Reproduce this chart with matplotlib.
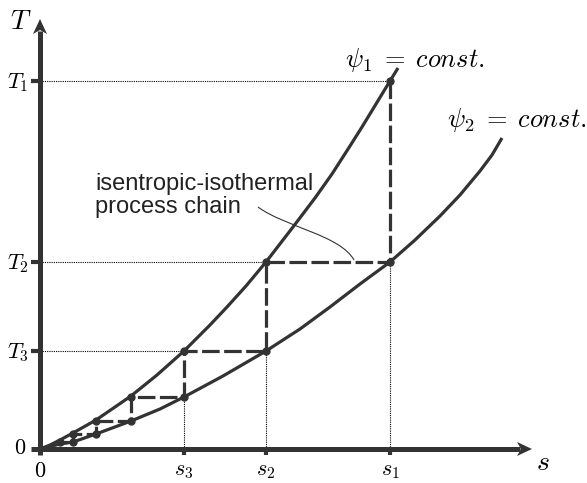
import matplotlib
matplotlib.use("Agg")
import matplotlib.pyplot as plt
from matplotlib.path import Path
from matplotlib.patches import PathPatch, Polygon

plt.rcParams['mathtext.fontset'] = 'cm'

# ---- data (arbitrary units) ----
psi1_s = [0, 10, 20, 33, 56, 75, 91, 117, 144, 170, 187, 206, 226, 253, 275, 292,
          310, 322, 336, 350, 358]
psi1_T = [0, 4, 9, 16, 29, 42, 53, 74, 98, 124, 142, 163, 187, 222, 251, 275,
          303, 322, 345, 368, 381]
psi2_s = [0, 20, 33, 56, 91, 120, 144, 183, 226, 260, 290, 320, 350, 375, 400,
          420, 440, 452, 462]
psi2_T = [0, 5, 7, 15, 28, 40, 52, 73, 98, 120, 142, 165, 187, 209, 233,
          254, 278, 294, 311]

chain_s = [350, 226, 144, 91, 56, 33, 20]
chain_T = [368, 187, 98, 52, 28, 15, 7]

s_ticks = [144, 226, 350]
s_labels = ['$s_3$', '$s_2$', '$s_1$']
T_ticks = [368, 187, 98]
T_labels = ['$T_1$', '$T_2$', '$T_3$']

s_max = 492
T_max = 430

dark = '#333333'

fig = plt.figure(figsize=(5.87, 4.83), dpi=100)
ax = fig.add_axes([0, 0, 1, 1])
ax.set_xlim(-40, 547)
ax.set_ylim(-34, 449)
ax.axis('off')

# axes with stealth arrows
ax.plot([-9, s_max - 12], [0, 0], color=dark, lw=3.6, solid_capstyle='butt', zorder=3)
ax.plot([0, 0], [-6, T_max - 12], color=dark, lw=3.6, solid_capstyle='butt', zorder=3)
L, W, N = 15, 7, 4
ax.add_patch(Polygon([(s_max, 0), (s_max - L, W), (s_max - L + N, 0), (s_max - L, -W)],
                     closed=True, color=dark, lw=0, zorder=3))
ax.add_patch(Polygon([(0, T_max), (W, T_max - L), (0, T_max - L + N), (-W, T_max - L)],
                     closed=True, color=dark, lw=0, zorder=3))

# ticks
for s in s_ticks:
    ax.plot([s, s], [0, -6], color=dark, lw=3.0, solid_capstyle='butt', zorder=3)
for T in T_ticks:
    ax.plot([0, -9], [T, T], color=dark, lw=3.0, solid_capstyle='butt', zorder=3)

# curves
ax.plot(psi1_s, psi1_T, color=dark, lw=2.3, zorder=2, solid_capstyle='butt')
ax.plot(psi2_s, psi2_T, color=dark, lw=2.3, zorder=2, solid_capstyle='butt')

# process chain
path_s, path_T = [], []
for k in range(len(chain_s)):
    path_s.append(chain_s[k]); path_T.append(chain_T[k])
    if k + 1 < len(chain_s):
        path_s.append(chain_s[k]); path_T.append(chain_T[k + 1])
ax.plot(path_s, path_T, color=dark, lw=2.3, dashes=(5.5, 1.4), zorder=2)
ax.plot(path_s, path_T, 'o', color=dark, ms=5, zorder=4)

# dotted guide lines
for k in range(3):
    ax.plot([0, chain_s[k]], [chain_T[k], chain_T[k]], color='black', lw=0.8,
            ls=(0, (1, 1)), zorder=1)
    ax.plot([chain_s[k], chain_s[k]], [0, chain_T[k + 1]], color='black', lw=0.8,
            ls=(0, (1, 1)), zorder=1)

# labels
fs = 16
for s, lab in zip(s_ticks, s_labels):
    ax.text(s, -12, lab, ha='center', va='top', fontsize=fs)
ax.text(0, -12, '$0$', ha='center', va='top', fontsize=fs)
for T, lab in zip(T_ticks, T_labels):
    ax.text(-11, T - 2, lab, ha='right', va='center', fontsize=fs)
ax.text(-14, 1, '$0$', ha='right', va='center', fontsize=fs)
ax.text(-19, 428, '$T$', ha='center', va='center', fontsize=20)
ax.text(503, -13, '$s$', ha='center', va='center', fontsize=20)

ax.text(375, 389, r'$\psi_1\;=\;const.$', ha='center', va='center', fontsize=19)
ax.text(477, 329, r'$\psi_2\;=\;const.$', ha='center', va='center', fontsize=19)

ax.text(55, 276, 'isentropic-isothermal\nprocess chain', ha='left', va='top',
        fontsize=17, family='Liberation Sans', color='#222222', linespacing=1.05)

verts = [(218, 242), (245, 222), (300, 214), (314, 189)]
leader = PathPatch(Path(verts, [Path.MOVETO, Path.CURVE4, Path.CURVE4, Path.CURVE4]),
                   fill=False, lw=0.8, color=dark, zorder=2)
ax.add_patch(leader)

fig.savefig('out.png', dpi=100)
